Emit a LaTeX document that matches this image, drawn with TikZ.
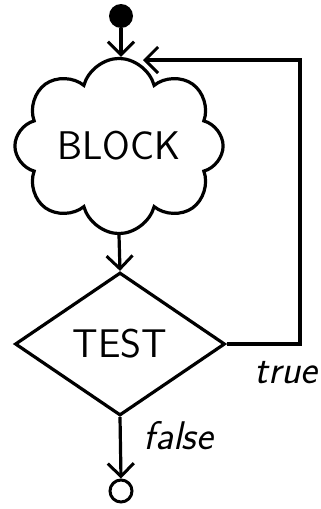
\documentclass[tikz,border=0pt]{standalone}
\usepackage{tikz}
\usetikzlibrary{shapes.symbols,shapes.geometric,arrows.meta}

\tikzset{
  flow/.style={line width=3.2pt, -{Straight Barb[length=13pt,width=26pt,line width=3pt]}},
  bigtext/.style={font=\sffamily\fontsize{40}{42}\selectfont},
  handtext/.style={font=\sffamily\itshape\fontsize{40}{42}\selectfont}
}

\begin{document}
\begin{tikzpicture}[x=1pt,y=-1pt]
\useasboundingbox (0,0) rectangle (321,509);

% Nodes
\node [circle, fill, inner sep=0pt, minimum size=24pt] (start) at (121,16) {};
\node [cloud, draw, line width=3.2pt, cloud puffs=8, aspect=1.4, minimum width=190pt, minimum height=136pt, bigtext] (block) at (119,146) {BLOCK};
\node [diamond, draw, line width=3.2pt, aspect=1.47, minimum width=210pt, minimum height=143pt, inner sep=0pt, bigtext] (test) at (120,344) {TEST};
\node [circle, draw, line width=3pt, minimum size=22pt, inner sep=0pt] (stop) at (121,491) {};

% Loop back
\coordinate (corner) at (300,60);
\coordinate (back) at (143,60);

% Arrows
\draw [flow] (start) -- (start |- block.north);
\draw [flow] (block.south) -- (test.north);
\draw [flow] (test.east) -| (corner) -- (back);
\draw [flow] (test.south) -- (stop.north);

% Labels
\node [handtext, anchor=east] (truelabel) at (321,373) {true};
\node [handtext, anchor=west] (falselabel) at (140,436) {false};
\end{tikzpicture}
\end{document}
